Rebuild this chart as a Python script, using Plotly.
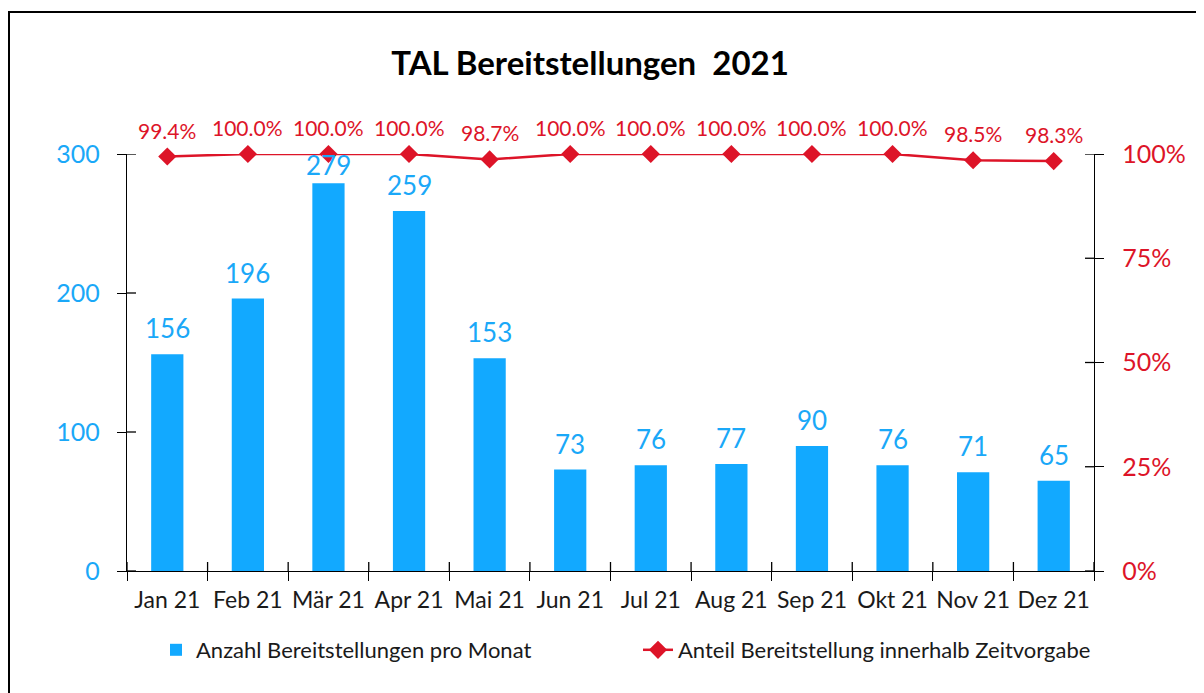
import plotly.graph_objects as go

months = ["Jan 21", "Feb 21", "Mär 21", "Apr 21", "Mai 21", "Jun 21",
          "Jul 21", "Aug 21", "Sep 21", "Okt 21", "Nov 21", "Dez 21"]
anzahl = [156, 196, 279, 259, 153, 73, 76, 77, 90, 76, 71, 65]
anteil = [0.994, 1.0, 1.0, 1.0, 0.987, 1.0, 1.0, 1.0, 1.0, 1.0, 0.985, 0.983]
left_ticks = [0, 100, 200, 300]
right_ticks = [0, 0.25, 0.5, 0.75, 1.0]

BLUE = "#12A9FF"
BLUE_TXT = "#1AA8F8"
RED = "#DD1428"
FONT = "Lato, sans-serif"

OFF = 8  # page body margin
W, H = 1204 - OFF, 693 - OFF
# plot area in page pixels
L, R, T, B = 127 - OFF, 1094 - OFF, 154 - OFF, 571 - OFF
PW, PH = R - L, B - T


def px_x(p):
    return (p - OFF - L) / PW


def px_y(p):
    return (B - (p - OFF)) / PH


fig = go.Figure()
fig.add_trace(go.Bar(
    x=months, y=anzahl, name="Anzahl Bereitstellungen pro Monat",
    marker=dict(color=BLUE, line=dict(width=0)), width=0.4,
))
fig.add_trace(go.Scatter(
    x=months, y=anteil, name="Anteil Bereitstellung innerhalb Zeitvorgabe",
    mode="lines+markers", yaxis="y2",
    line=dict(color=RED, width=2.5),
    marker=dict(symbol="diamond", size=14, color=RED),
    cliponaxis=False,
))

annotations = []
for m, v in zip(months, anzahl):
    shift = 0 if v > 270 else 8
    annotations.append(dict(x=m, y=v, xref="x", yref="y", text=str(v),
                            showarrow=False, yanchor="bottom", yshift=shift,
                            font=dict(family=FONT, size=26, color=BLUE_TXT)))
for m, v in zip(months, anteil):
    annotations.append(dict(x=m, y=v, xref="x", yref="y2", text=f"{v*100:.1f}%",
                            showarrow=False, yanchor="bottom", yshift=12,
                            font=dict(family=FONT, size=21, color=RED)))

shapes = []
# outer frame (top and left edges)
shapes.append(dict(type="line", xref="paper", yref="paper",
                   x0=px_x(8), x1=px_x(1210), y0=px_y(12), y1=px_y(12),
                   line=dict(color="black", width=2)))
shapes.append(dict(type="line", xref="paper", yref="paper",
                   x0=px_x(9), x1=px_x(9), y0=px_y(12), y1=px_y(700),
                   line=dict(color="black", width=2)))
# inner halves of crossing ticks
TL = 9
for v in left_ticks:
    shapes.append(dict(type="line", xref="paper", yref="y", xsizemode="pixel",
                       xanchor=0, x0=0, x1=TL, y0=v, y1=v,
                       line=dict(color="black", width=1.3)))
for v in right_ticks:
    shapes.append(dict(type="line", xref="paper", yref="y2", xsizemode="pixel",
                       xanchor=1, x0=-TL, x1=0, y0=v, y1=v,
                       line=dict(color="black", width=1.3)))
for i in range(len(months) + 1):
    shapes.append(dict(type="line", xref="x", yref="paper", ysizemode="pixel",
                       yanchor=0, y0=0, y1=TL, x0=i - 0.5, x1=i - 0.5,
                       line=dict(color="black", width=1.3)))

fig.update_layout(
    width=W, height=H,
    margin=dict(l=L, r=W - R, t=T, b=H - B),
    paper_bgcolor="white", plot_bgcolor="white",
    font=dict(family=FONT, color="black"),
    title=dict(text="<b>TAL Bereitstellungen  2021</b>", x=px_x(590), xref="paper",
               xanchor="center",
               y=1 - (63 - OFF) / H, yanchor="middle",
               font=dict(family=FONT, size=33, color="black")),
    xaxis=dict(type="category", range=[-0.5, 11.5], showgrid=False,
               showline=True, linecolor="black", linewidth=1.3,
               ticks="outside", ticklen=TL, tickwidth=1.3, tickcolor="black",
               tickson="boundaries", ticklabelstandoff=8, tickangle=0,
               automargin=False,
               tickfont=dict(family=FONT, size=23, color="#1a1a1a")),
    yaxis=dict(range=[0, 300], tickvals=left_ticks, showgrid=False,
               showline=True, linecolor="black", linewidth=1.3,
               ticks="outside", ticklen=TL, tickwidth=1.3, tickcolor="black",
               ticklabelstandoff=12, automargin=False,
               tickfont=dict(family=FONT, size=25, color=BLUE_TXT), zeroline=False),
    yaxis2=dict(range=[0, 1], tickvals=right_ticks, tickformat=".0%",
                overlaying="y", side="right", showgrid=False,
                showline=True, linecolor="black", linewidth=1.3,
                ticks="outside", ticklen=TL, tickwidth=1.3, tickcolor="black",
                ticklabelstandoff=13, automargin=False,
                tickfont=dict(family=FONT, size=25, color=RED), zeroline=False),
    showlegend=True,
    legend=dict(orientation="h", x=px_x(156), y=px_y(650), xanchor="left", yanchor="middle",
                entrywidth=437, entrywidthmode="pixels",
                font=dict(family=FONT, size=22, color="#1a1a1a"),
                bgcolor="rgba(0,0,0,0)"),
    annotations=annotations,
    shapes=shapes,
)

fig.write_html("out.html")
